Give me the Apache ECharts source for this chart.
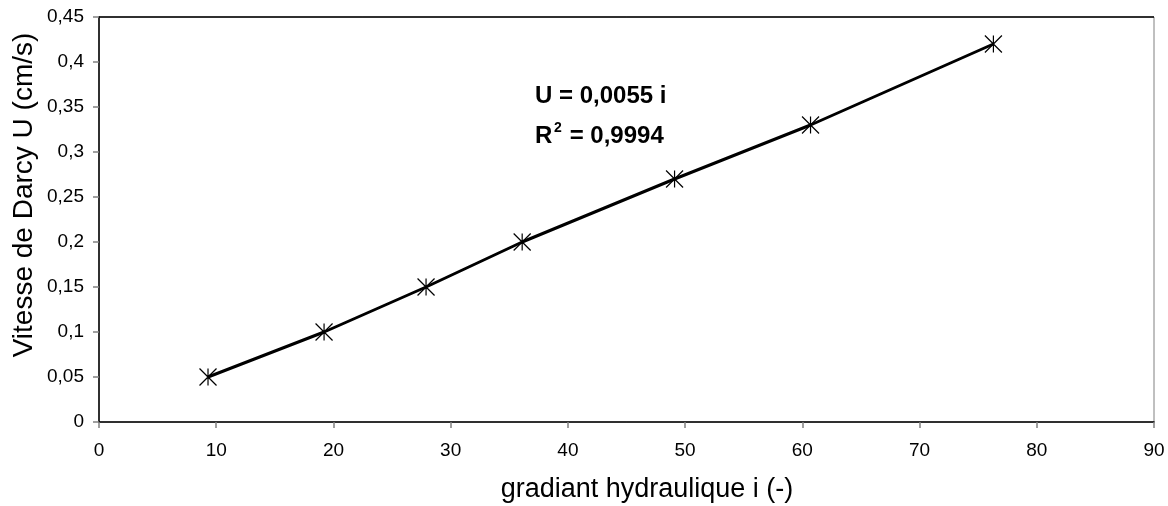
<!DOCTYPE html>
<html><head><meta charset="utf-8">
<script src="https://cdn.jsdelivr.net/npm/echarts@6/dist/echarts.min.js"></script>
<style>html,body{margin:0;padding:0;background:#fff}#c{width:1168px;height:506px}</style>
</head><body><div id="c"></div>
<script>
const gradient = [9.3, 19.2, 27.9, 36.1, 49.1, 60.7, 76.3];
const velocity = [0.05, 0.10, 0.15, 0.20, 0.27, 0.33, 0.42];
const xTitle = 'gradiant hydraulique i (-)';
const yTitle = 'Vitesse de Darcy U (cm/s)';
const eqLine1 = 'U = 0,0055 i';
const eqLine2 = ' = 0,9994';

const FONT = 'Liberation Sans, Arial, sans-serif';
const chart = echarts.init(document.getElementById('c'));
const fmt = v => String(+v.toFixed(2)).replace('.', ',');
chart.setOption({
  animation: false,
  textStyle: {fontFamily: FONT},
  grid: {left: 99, right: 14, top: 17, bottom: 84, show: true, borderColor: '#808080', borderWidth: 1, backgroundColor: 'transparent'},
  xAxis: {
    type: 'value', min: 0, max: 90, interval: 10,
    axisLine: {show: true, onZero: false, lineStyle: {color: '#000', width: 1.5}},
    axisTick: {show: true, inside: false, length: 6, lineStyle: {color: '#808080', width: 1.5}},
    axisLabel: {fontSize: 19, color: '#000', margin: 19},
    splitLine: {show: false}
  },
  yAxis: {
    type: 'value', min: 0, max: 0.45, interval: 0.05,
    axisLine: {show: true, lineStyle: {color: '#000', width: 1.5}},
    axisTick: {show: true, inside: false, length: 6, lineStyle: {color: '#808080', width: 1.5}},
    axisLabel: {fontSize: 19, color: '#000', margin: 15, formatter: fmt},
    splitLine: {show: false}
  },
  graphic: [
    {type: 'line', shape: {x1: 99, y1: 17, x2: 1154, y2: 17}, style: {stroke: '#000', lineWidth: 1.5}},
    {type: 'text', x: 647, y: 490, style: {text: xTitle, font: '27px ' + FONT, fill: '#000', align: 'center', verticalAlign: 'middle'}},
    {type: 'text', x: 24, y: 195, rotation: Math.PI / 2, style: {text: yTitle, font: '28px ' + FONT, fill: '#000', align: 'center', verticalAlign: 'middle'}},
    {type: 'text', x: 535, y: 96, style: {text: eqLine1, font: 'bold 24px ' + FONT, fill: '#000', align: 'left', verticalAlign: 'middle'}},
    {type: 'text', x: 535, y: 136, style: {text: 'R', font: 'bold 24px ' + FONT, fill: '#000', align: 'left', verticalAlign: 'middle'}},
    {type: 'text', x: 554, y: 128, style: {text: '2', font: 'bold 14px ' + FONT, fill: '#000', align: 'left', verticalAlign: 'middle'}},
    {type: 'text', x: 563, y: 136, style: {text: eqLine2, font: 'bold 24px ' + FONT, fill: '#000', align: 'left', verticalAlign: 'middle'}}
  ],
  series: [{
    type: 'line',
    data: gradient.map((g, i) => [g, velocity[i]]),
    lineStyle: {color: '#000', width: 3},
    symbol: 'path://M0,0L10,10M10,0L0,10M5,0L5,10',
    symbolSize: 17,
    itemStyle: {color: 'none', borderColor: '#000', borderWidth: 1.2},
    z: 3
  }]
});
</script></body></html>
